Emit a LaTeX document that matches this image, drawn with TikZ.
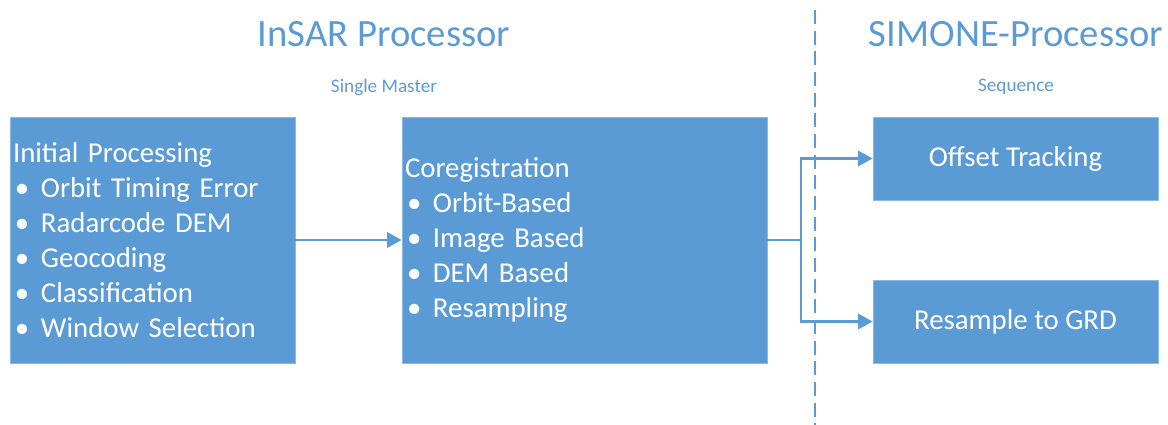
\documentclass[tikz,border=0pt]{standalone}
\usepackage{fontspec}
\setmainfont{Carlito}
\usetikzlibrary{arrows.meta}
\definecolor{boxblue}{HTML}{5B9BD5}
\newcommand{\bitem}[1]{\makebox[21pt][l]{\hspace{1.5pt}\textbullet}#1}

\begin{document}
\begin{tikzpicture}[x=0.75pt, y=-0.75pt,
  every node/.style = {font=\fontsize{21.6}{26.25}\selectfont, text=white},
  stepbox/.style = {shape=rectangle, draw=boxblue!70!white, line width=0.5pt,
    fill=boxblue, minimum height=184.5pt, inner sep=2.25pt, align=left},
  smallbox/.style = {shape=rectangle, draw=boxblue!70!white, line width=0.5pt,
    fill=boxblue, minimum width=213.75pt, minimum height=62.25pt, align=center},
  heading/.style = {text=boxblue, font=\fontsize{29}{34}\selectfont},
  subheading/.style = {text=boxblue, font=\fontsize{14.4}{17}\selectfont},
  flow/.style = {draw=boxblue, line width=2pt, -{Triangle[length=11pt,width=11.5pt]}}
  ]
  \useasboundingbox (0,0) rectangle (1168,425);
  % titles
  \node[heading] (insar) at (384,34) {InSAR Processor};
  \node[subheading] (master) at (384,87) {Single Master};
  \node[heading] (simone) at (1016,34) {SIMONE-Processor};
  \node[subheading] (sequence) at (1016,87) {Sequence};
  % separator
  \draw[boxblue, line width=1.5pt, dash pattern=on 10.5pt off 5pt] (815,10) -- (815,425);
  % boxes
  \node[stepbox, text width=209.25pt] (initial) at (152.5,240) {Initial Processing\\
    \bitem{Orbit Timing Error}\\ \bitem{Radarcode DEM}\\ \bitem{Geocoding}\\
    \bitem{Classification}\\ \bitem{Window Selection}};
  \node[stepbox, text width=269.25pt] (coreg) at (584.5,240) {Coregistration\\
    \bitem{Orbit-Based}\\ \bitem{Image Based}\\ \bitem{DEM Based}\\
    \bitem{Resampling}};
  \node[smallbox] (offset) at (1015.5,158.5) {Offset Tracking};
  \node[smallbox] (resample) at (1015.5,321.5) {Resample to GRD};
  % connectors
  \coordinate (fork) at (801,240);
  \draw[flow] (initial) -- (coreg);
  \draw[boxblue, line width=2pt] (coreg.east) -- (fork);
  \draw[flow] (fork) |- (offset.west);
  \draw[flow] (fork) |- (resample.west);
\end{tikzpicture}
\end{document}
